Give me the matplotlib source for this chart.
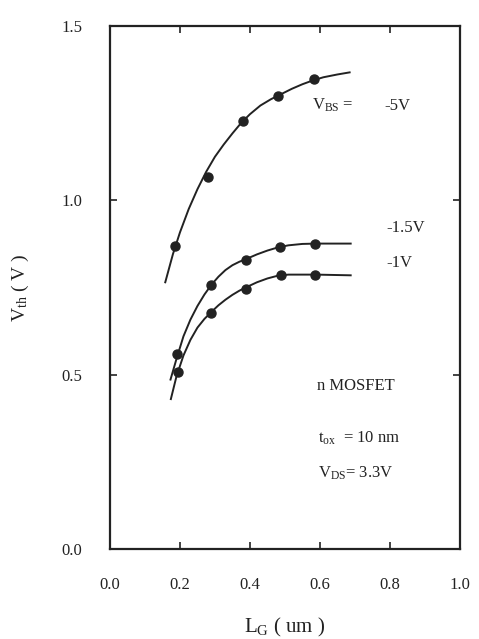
import numpy as np
import matplotlib
matplotlib.use('Agg')
import matplotlib.pyplot as plt

plt.rcParams['font.family'] = ['Liberation Serif', 'DejaVu Serif']
plt.rcParams['mathtext.fontset'] = 'custom'
plt.rcParams['mathtext.rm'] = 'Liberation Serif'
plt.rcParams['mathtext.it'] = 'Liberation Serif'

ink = '#222222'

# measured points (L_G in um, Vth in V)
lg_5 = [0.187, 0.281, 0.381, 0.481, 0.582]
vth_5 = [0.869, 1.068, 1.228, 1.298, 1.348]
lg_15 = [0.192, 0.289, 0.389, 0.487, 0.587]
vth_15 = [0.559, 0.757, 0.828, 0.867, 0.876]
lg_1 = [0.194, 0.289, 0.389, 0.488, 0.587]
vth_1 = [0.509, 0.677, 0.747, 0.787, 0.787]

# fitted curves
fit_x_5 = [0.158, 0.18, 0.20, 0.225, 0.25, 0.275, 0.30, 0.325, 0.35, 0.375,
           0.40, 0.43, 0.46, 0.49, 0.52, 0.55, 0.58, 0.61, 0.65, 0.685]
fit_y_5 = [0.765, 0.846, 0.908, 0.975, 1.032, 1.082, 1.125, 1.160, 1.192, 1.222,
           1.247, 1.272, 1.290, 1.305, 1.320, 1.333, 1.344, 1.353, 1.361, 1.367]
fit_x_15 = [0.173, 0.19, 0.21, 0.23, 0.25, 0.27, 0.29, 0.31, 0.33, 0.35,
            0.37, 0.39, 0.42, 0.45, 0.48, 0.51, 0.55, 0.59, 0.688]
fit_y_15 = [0.486, 0.545, 0.610, 0.658, 0.697, 0.730, 0.758, 0.781, 0.800, 0.814,
            0.824, 0.832, 0.845, 0.856, 0.865, 0.871, 0.875, 0.876, 0.876]
fit_x_1 = [0.174, 0.19, 0.21, 0.23, 0.25, 0.27, 0.29, 0.31, 0.33, 0.35,
           0.37, 0.39, 0.42, 0.45, 0.48, 0.51, 0.55, 0.59, 0.688]
fit_y_1 = [0.430, 0.495, 0.555, 0.600, 0.635, 0.660, 0.680, 0.699, 0.715, 0.729,
           0.741, 0.751, 0.765, 0.776, 0.784, 0.787, 0.787, 0.787, 0.785]

xticks = [0.0, 0.2, 0.4, 0.6, 0.8, 1.0]
yticks = [0.0, 0.5, 1.0, 1.5]

fig = plt.figure(figsize=(4.79, 6.39), dpi=100)
ax = fig.add_axes([0.2296, 0.1408, 0.7304, 0.8185])

for fx, fy, mx, my in [(fit_x_5, fit_y_5, lg_5, vth_5),
                       (fit_x_15, fit_y_15, lg_15, vth_15),
                       (fit_x_1, fit_y_1, lg_1, vth_1)]:
    ax.plot(fx, fy, '-', color=ink, lw=1.4)
    ax.plot(mx, my, 'o', color=ink, ms=6.5)

ax.set_xlim(0, 1.0)
ax.set_ylim(0, 1.5)
ax.set_xticks(xticks)
ax.set_yticks(yticks)
ax.set_xticklabels([f'{v:.1f}' for v in xticks])
ax.set_yticklabels([f'{v:.1f}' for v in yticks])
ax.tick_params(direction='in', top=True, right=True, length=5, width=1.2,
               labelsize=12, pad=20, colors=ink)
for s in ax.spines.values():
    s.set_linewidth(1.6)
    s.set_color(ink)

ax.set_xlabel('L$_\\mathrm{G}$ ( um )', fontsize=15, color=ink, labelpad=17)
ax.set_ylabel('V$_\\mathrm{th}$ ( V )', fontsize=14, color=ink, labelpad=22)

tk = dict(fontsize=12, color=ink)
ax.text(0.578, 1.26, 'V$_{\\mathrm{BS}}$ =', **tk)
ax.text(0.783, 1.26, '-5V', **tk)
ax.text(0.79, 0.91, '-1.5V', **tk)
ax.text(0.79, 0.81, '-1V', **tk)
ax.text(0.592, 0.455, 'n MOSFET', **tk)
ax.text(0.595, 0.305, 't$_{\\mathrm{ox}}$  = 10 nm', **tk)
ax.text(0.595, 0.205, 'V$_{\\mathrm{DS}}$= 3.3V', **tk)

fig.savefig('out.png', dpi=100)
